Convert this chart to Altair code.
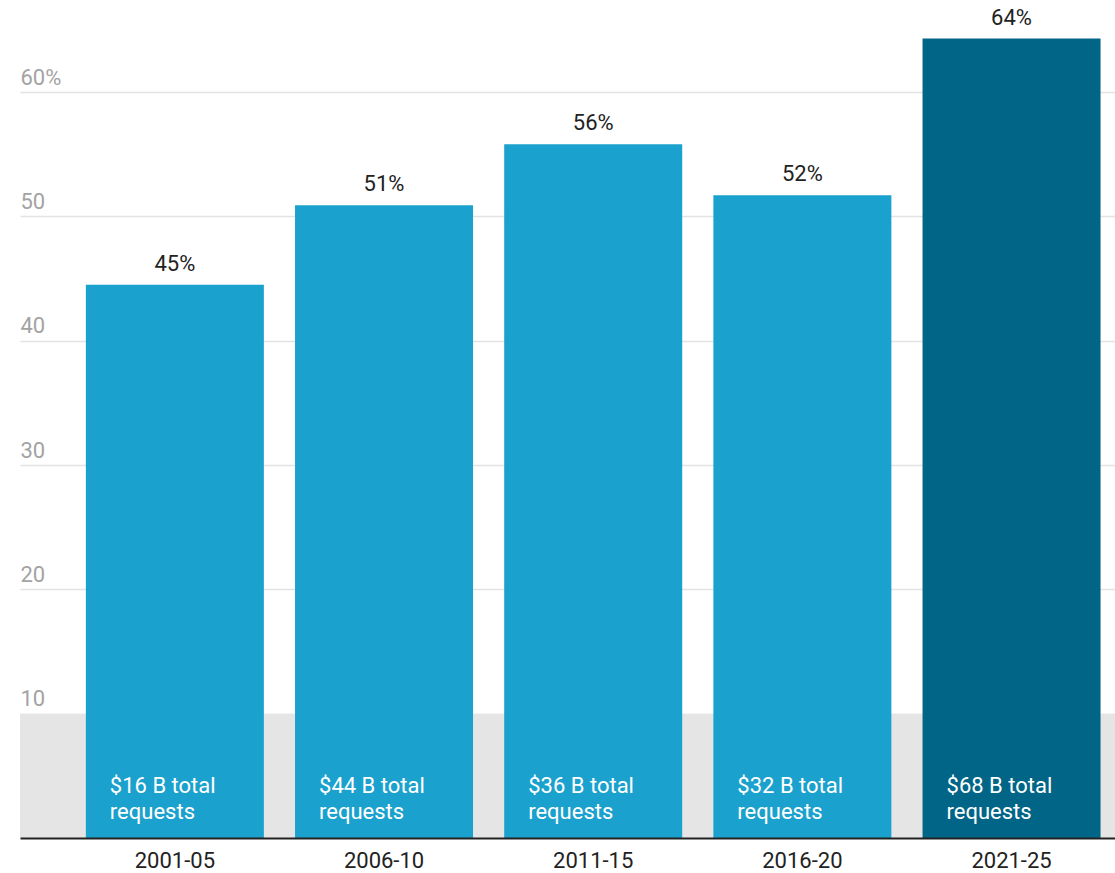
import altair as alt
import pandas as pd

periods = ["2001-05", "2006-10", "2011-15", "2016-20", "2021-25"]
shares = [44.5, 50.9, 55.8, 51.7, 64.3]
share_labels = ["45%", "51%", "56%", "52%", "64%"]
request_labels = [
    "$16 B total\nrequests",
    "$44 B total\nrequests",
    "$36 B total\nrequests",
    "$32 B total\nrequests",
    "$68 B total\nrequests",
]
groups = ["past", "past", "past", "past", "current"]
y_ticks = [10, 20, 30, 40, 50, 60]
band_low = [0]
band_high = [10]

df = pd.DataFrame({
    "period": periods,
    "share": shares,
    "label": share_labels,
    "req": request_labels,
    "group": groups,
})
band_df = pd.DataFrame({"lo": band_low, "hi": band_high})

W, H = 1095, 838
FONT = "Roboto"
YMAX = 67.4

x_scale = alt.Scale(paddingInner=0.149, paddingOuter=0.192, align=0.82)
y_scale = alt.Scale(domain=[0, YMAX], nice=False, zero=True)

x_axis = alt.Axis(
    labelAngle=0, ticks=False, labelPadding=12, domainColor="#222222",
    domainWidth=2, labelColor="#222222", labelFontSize=22, labelFont=FONT,
    grid=False, zindex=1,
)
y_axis = alt.Axis(
    values=y_ticks,
    labelExpr="datum.value == 60 ? '60%' : datum.label",
    ticks=False, domain=False, labelAlign="left", labelPadding=0,
    labelBaseline="alphabetic", labelOffset=-8, labelColor="#a3a3a3",
    labelFontSize=22, labelFont=FONT, grid=True, gridColor="#e3e3e3",
    gridWidth=1.5,
)

band = alt.Chart(band_df).mark_rect(color="#e5e5e5").encode(
    x=alt.value(0),
    x2=alt.value("width"),
    y=alt.Y("lo:Q", scale=y_scale, title=None),
    y2="hi:Q",
)

bars = alt.Chart(df).mark_bar().encode(
    x=alt.X("period:N", sort=periods, title=None, scale=x_scale, axis=x_axis),
    y=alt.Y("share:Q", scale=y_scale, title=None, axis=y_axis),
    color=alt.Color(
        "group:N",
        scale=alt.Scale(domain=["past", "current"], range=["#1ba1cd", "#006587"]),
        legend=None,
    ),
)

top_text = alt.Chart(df).mark_text(
    baseline="alphabetic", dy=-14, fontSize=22, font=FONT, color="#222222"
).encode(
    x=alt.X("period:N", sort=periods),
    y=alt.Y("share:Q"),
    text="label:N",
)

inner_text = alt.Chart(df).mark_text(
    align="left", baseline="alphabetic", dx=24, dy=-45, fontSize=22,
    font=FONT, color="white", lineBreak="\n", lineHeight=26,
).encode(
    x=alt.X("period:N", sort=periods, bandPosition=0),
    y=alt.datum(0),
    text="req:N",
)

chart = alt.layer(band, bars, top_text, inner_text).properties(
    width=W, height=H,
    padding={"left": 20, "top": 0, "right": 0, "bottom": 0},
).configure(font=FONT, background="white").configure_view(stroke=None)

chart.save("out.html", embed_options={"renderer": "svg", "actions": False})
